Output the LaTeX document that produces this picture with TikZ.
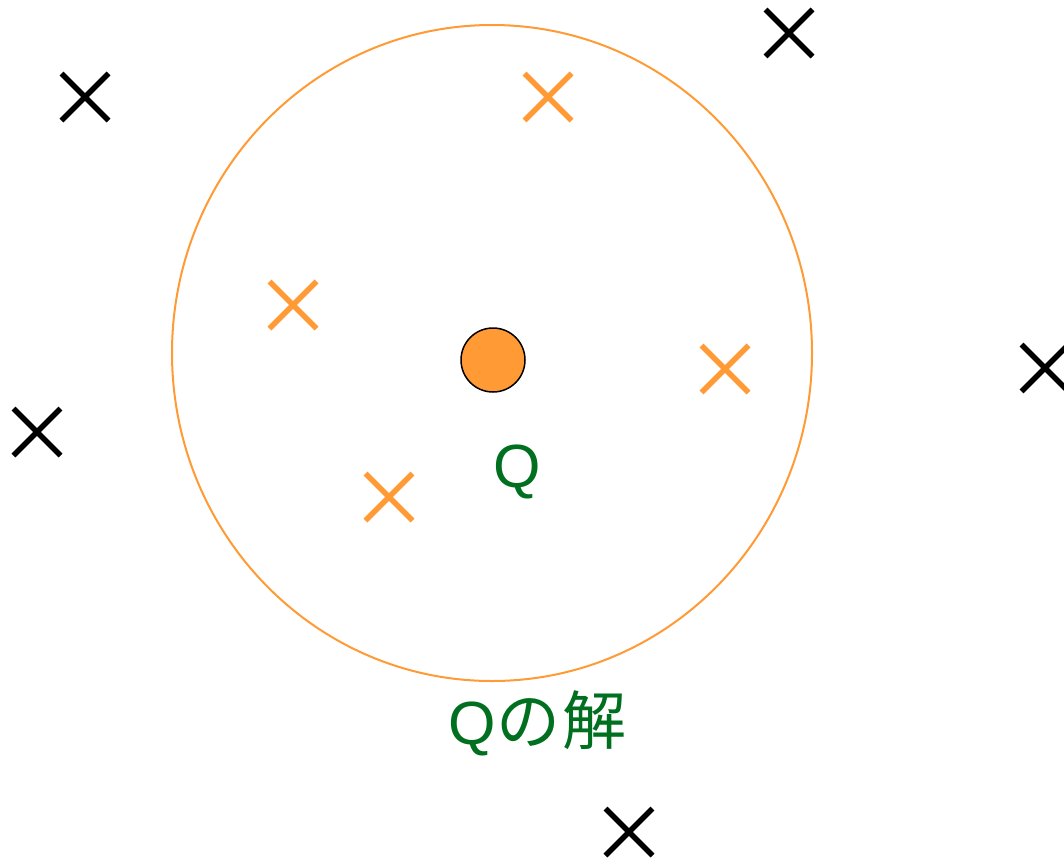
\documentclass[tikz,border=0pt]{standalone}
\usepackage{fontspec}
\setmainfont{Liberation Sans}
\newfontfamily\jpfont{Noto Sans CJK JP}
\definecolor{qorange}{RGB}{255,154,53}
\definecolor{qgreen}{RGB}{0,112,32}
\tikzset{
  xcross/.pic={\draw[line cap=butt] (-23.5,-23.5)--(23.5,23.5) (-23.5,23.5)--(23.5,-23.5);},
  outmark/.style={draw=black,line width=5.5pt},
  inmark/.style={draw=qorange,line width=5.5pt},
  qlabel/.style={text=qgreen,font=\fontsize{61}{70}\selectfont,inner sep=0pt}
}
\begin{document}
\begin{tikzpicture}[x=1pt,y=-1pt]
\useasboundingbox (0,0) rectangle (1064,862);
% solution region
\draw[qorange,line width=2pt] (492,353) ellipse [x radius=320,y radius=328];
% point Q
\node[circle,draw=black,line width=1.5pt,fill=qorange,minimum size=64pt,inner sep=0pt] (q) at (493,360) {};
\node[qlabel,anchor=base] (qtext) at (517.5,487) {Q};
\node[qlabel,anchor=base west] (qsol) at (448,744) {Q{\jpfont\fontsize{64}{70}\selectfont\kern1pt の\kern2pt 解}};
% points inside
\pic[inmark] at (548,97) {xcross};
\pic[inmark] at (293,305) {xcross};
\pic[inmark] at (725,369) {xcross};
\pic[inmark] at (389,497) {xcross};
% points outside
\pic[outmark] at (85,97) {xcross};
\pic[outmark] at (789,33) {xcross};
\pic[outmark] at (37,432) {xcross};
\pic[outmark] at (1045,368) {xcross};
\pic[outmark] at (629,832) {xcross};
\end{tikzpicture}
\end{document}
